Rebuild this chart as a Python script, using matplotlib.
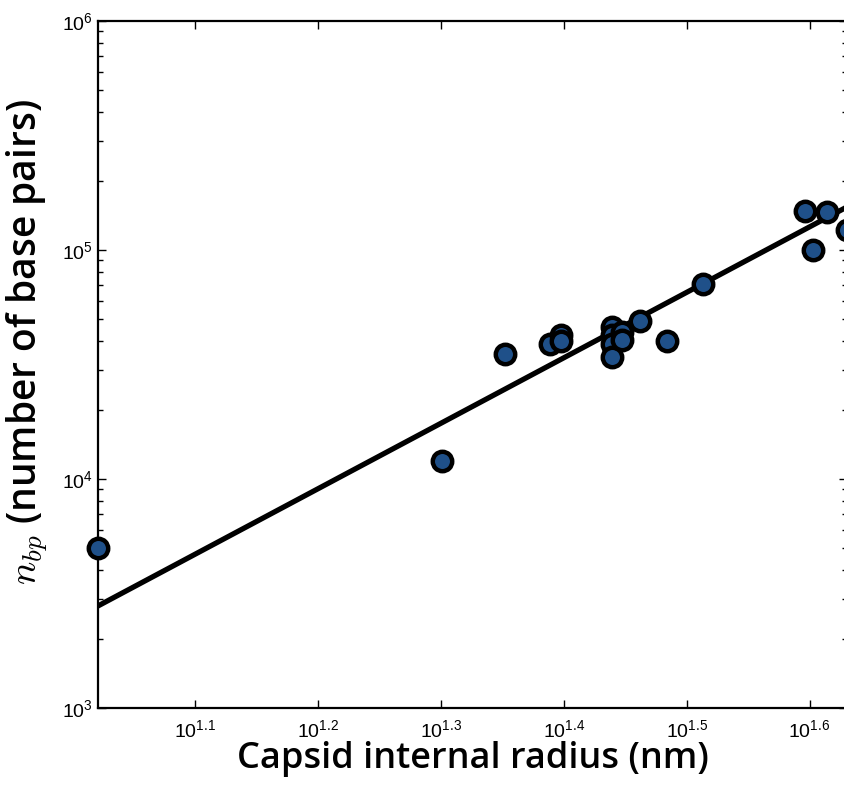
import numpy as np
import matplotlib
matplotlib.use("Agg")
import matplotlib.pyplot as plt

# capsid internal radius (nm) and packaged genome length (bp)
radius = [10.5, 20.0, 22.5, 24.5, 25.0, 25.0, 27.5, 27.5, 27.5, 27.5,
          28.0, 28.0, 29.0, 30.5, 32.6, 39.5, 40.1, 41.1, 42.7]
nbp = [5000, 12000, 35000, 39000, 42500, 40000, 46000, 42500, 39000, 34000,
       44000, 40500, 49000, 40000, 71000, 148000, 100000, 146000, 122000]

# power law fit n_bp = A * R^b
fit_exp = 2.86
fit_pref = 3.35

xticks = [10**1.1, 10**1.2, 10**1.3, 10**1.4, 10**1.5, 10**1.6]
xticklabels = [r'$10^{1.1}$', r'$10^{1.2}$', r'$10^{1.3}$', r'$10^{1.4}$',
               r'$10^{1.5}$', r'$10^{1.6}$']

plt.rcParams['mathtext.fontset'] = 'custom'
plt.rcParams['mathtext.rm'] = 'Liberation Sans'
plt.rcParams['mathtext.it'] = 'Liberation Sans:italic'
plt.rcParams['font.family'] = 'Liberation Sans'

fig = plt.figure(figsize=(8.45, 7.85), dpi=100)
ax = fig.add_axes([98/845, 77/785, 749/845, 687/785])

r_line = np.logspace(np.log10(10.5), np.log10(42.7), 200)
ax.plot(r_line, fit_pref * r_line**fit_exp, color='black', lw=3.8, zorder=2)
ax.plot(radius, nbp, 'o', ms=14, mfc='#1f5089', mec='black', mew=3.2,
        clip_on=False, zorder=3)

ax.set_xscale('log')
ax.set_yscale('log')
ax.set_xlim(10.5, 42.7)
ax.set_ylim(1e3, 1e6)

ax.set_xticks(xticks)
ax.set_xticklabels(xticklabels)
ax.xaxis.set_minor_locator(matplotlib.ticker.NullLocator())
ax.tick_params(which='both', direction='in', top=True, right=True,
               labelsize=14, width=1)
ax.tick_params(which='major', length=6)
ax.tick_params(which='minor', length=3.5)
ax.tick_params(axis='x', pad=8)
for s in ax.spines.values():
    s.set_linewidth(1.6)

ax.set_xlabel('Capsid internal radius (nm)', family='Open Sans',
              fontweight='semibold', fontsize=26, labelpad=0)
yl = ax.set_ylabel(r'$n_{bp}$ (number of base pairs)', family='Open Sans',
                   fontweight='semibold', fontsize=28)
yl.set_math_fontfamily('cm')
ax.yaxis.set_label_coords(-0.064, 0.533)

fig.savefig('out.png', dpi=100)
